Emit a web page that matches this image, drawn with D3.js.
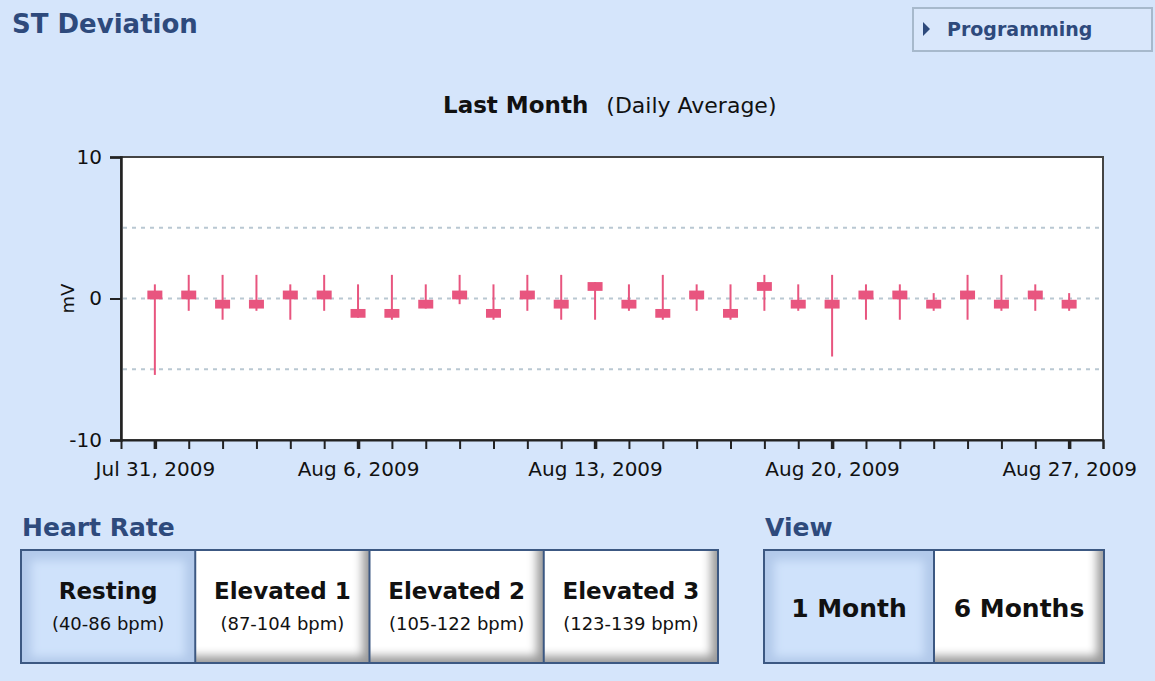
<!DOCTYPE html>
<html>
<head>
<meta charset="utf-8">
<script src="https://cdn.jsdelivr.net/npm/d3@7"></script>
<style>
  html, body { margin: 0; padding: 0; background: #d5e5fb; }
  svg { display: block; font-family: "DejaVu Sans", Verdana, sans-serif; }
</style>
</head>
<body>
<div id="chart"></div>
<script>

// Daily dates shown on the chart
const days = ["2009-07-31","2009-08-01","2009-08-02","2009-08-03","2009-08-04","2009-08-05","2009-08-06",
  "2009-08-07","2009-08-08","2009-08-09","2009-08-10","2009-08-11","2009-08-12","2009-08-13",
  "2009-08-14","2009-08-15","2009-08-16","2009-08-17","2009-08-18","2009-08-19","2009-08-20",
  "2009-08-21","2009-08-22","2009-08-23","2009-08-24","2009-08-25","2009-08-26","2009-08-27"];

// Daily average ST deviation (mV) and daily max / min
const avgValues = [0.25, 0.25, -0.4, -0.4, 0.25, 0.25, -1.05, -1.05, -0.4, 0.25, -1.05, 0.25, -0.4, 0.85,
  -0.4, -1.05, 0.25, -1.05, 0.85, -0.4, -0.4, 0.25, 0.25, -0.4, 0.25, -0.4, 0.25, -0.4];
const maxValues = [1.0, 1.67, 1.67, 1.67, 1.0, 1.67, 1.0, 1.67, 1.0, 1.67, 1.0, 1.67, 1.67, 1.16,
  1.0, 1.67, 1.0, 1.0, 1.67, 1.0, 1.67, 1.0, 1.0, 0.38, 1.67, 1.67, 1.0, 0.38];
const minValues = [-5.4, -0.87, -1.5, -0.87, -1.5, -0.87, -1.36, -1.5, -0.71, -0.4, -1.5, -0.87, -1.5, -1.5,
  -0.87, -1.5, -0.87, -1.5, -0.87, -0.87, -4.1, -1.5, -1.5, -0.87, -1.5, -0.87, -0.87, -0.87];

// Axis ticks
const yTicks = [-10, 0, 10];
const yGrid = [-5, 0, 5];
const labeledDays = ["2009-07-31", "2009-08-06", "2009-08-13", "2009-08-20", "2009-08-27"];
const xDomain = ["2009-07-30", "2009-08-28"];

// Buttons
const heartRateLabels = ["Resting", "Elevated 1", "Elevated 2", "Elevated 3"];
const heartRateRanges = ["(40-86 bpm)", "(87-104 bpm)", "(105-122 bpm)", "(123-139 bpm)"];
const viewLabels = ["1 Month", "6 Months"];

const W = 1155, H = 681;
const navy = "#2e4a7c";
const pink = "#e8557f";
const boxHalf = 0.31;

const parse = d3.timeParse("%Y-%m-%d");
const data = days.map((d, i) => ({ date: parse(d), avg: avgValues[i], hi: maxValues[i], lo: minValues[i] }));

const svg = d3.select("#chart").append("svg")
  .attr("width", W)
  .attr("height", H);

svg.append("rect").attr("width", W).attr("height", H).attr("fill", "#d5e5fb");

const defs = svg.append("defs");
defs.append("filter").attr("id", "blur").attr("x", "-20%").attr("y", "-20%").attr("width", "140%").attr("height", "140%")
  .append("feGaussianBlur").attr("stdDeviation", 5);

// Title
svg.append("text").attr("x", 12).attr("y", 33)
  .attr("font-size", 26).attr("font-weight", "bold").attr("fill", navy)
  .text("ST Deviation");

// Programming button
const prog = svg.append("g").attr("transform", "translate(913,8)");
prog.append("rect").attr("width", 239).attr("height", 43)
  .attr("fill", "#d9e7fb").attr("stroke", "#a7b9cc").attr("stroke-width", 2);
prog.append("path").attr("d", "M10,14 L17,21 L10,28 Z").attr("fill", navy);
prog.append("text").attr("x", 34).attr("y", 28)
  .attr("font-size", 19).attr("font-weight", "bold").attr("fill", navy)
  .text("Programming");

// Chart heading
const heading = svg.append("text").attr("x", 443).attr("y", 113).attr("fill", "#111");
heading.append("tspan").attr("font-weight", "bold").attr("font-size", 23).text("Last Month");
heading.append("tspan").attr("dx", 18).attr("font-size", 22).text("(Daily Average)");

// Plot area
const plot = { left: 121, right: 1103, top: 157, bottom: 440 };

const x = d3.scaleTime()
  .domain(xDomain.map(parse))
  .range([plot.left, plot.right]);

const y = d3.scaleLinear()
  .domain([-10, 10])
  .range([plot.bottom, plot.top]);

svg.append("rect")
  .attr("x", plot.left).attr("y", plot.top)
  .attr("width", plot.right - plot.left).attr("height", plot.bottom - plot.top)
  .attr("fill", "#fff").attr("stroke", "#444").attr("stroke-width", 2);

// Dotted grid lines
svg.append("g").selectAll("line")
  .data(yGrid)
  .enter().append("line")
    .attr("x1", plot.left + 2).attr("x2", plot.right - 2)
    .attr("y1", d => y(d)).attr("y2", d => y(d))
    .attr("stroke", "#b9c8d2").attr("stroke-width", 2)
    .attr("stroke-dasharray", "4,5");

// Axes
const labeled = new Set(labeledDays);
const fmt = d3.timeFormat("%b %-d, %Y");
const key = d3.timeFormat("%Y-%m-%d");
const tickDays = d3.timeDay.range(parse(days[0]), d3.timeDay.offset(parse(xDomain[1]), 1));

const xAxis = d3.axisBottom(x)
  .tickValues(tickDays)
  .tickSize(9)
  .tickPadding(13)
  .tickFormat(d => labeled.has(key(d)) ? fmt(d) : "");

const gx = svg.append("g")
  .attr("transform", `translate(0,${plot.bottom})`)
  .call(xAxis);
gx.select(".domain").attr("stroke", "#222").attr("stroke-width", 2);
gx.selectAll(".tick line")
  .attr("stroke", "#222")
  .attr("stroke-width", d => labeled.has(key(d)) ? 3.5 : 2);
gx.selectAll(".tick text").attr("font-size", 20).attr("fill", "#111")
  .attr("font-family", "DejaVu Sans, Verdana, sans-serif");

const yAxis = d3.axisLeft(y)
  .tickValues(yTicks)
  .tickSize(11)
  .tickPadding(8)
  .tickFormat(d => String(d));

const gy = svg.append("g")
  .attr("transform", `translate(${plot.left},0)`)
  .call(yAxis);
gy.select(".domain").attr("stroke", "#222").attr("stroke-width", 2.5);
gy.selectAll(".tick line").attr("stroke", "#222").attr("stroke-width", 2);
gy.selectAll(".tick text").attr("font-size", 20).attr("fill", "#111")
  .attr("font-family", "DejaVu Sans, Verdana, sans-serif");

svg.append("text")
  .attr("transform", `translate(74,${y(0)}) rotate(-90)`)
  .attr("text-anchor", "middle")
  .attr("font-size", 18).attr("fill", "#111")
  .text("mV");

// Candles
const candles = svg.append("g").selectAll("g")
  .data(data)
  .enter().append("g");

candles.append("line")
  .attr("x1", d => x(d.date)).attr("x2", d => x(d.date))
  .attr("y1", d => y(d.hi)).attr("y2", d => y(d.lo))
  .attr("stroke", pink).attr("stroke-width", 2);

candles.append("rect")
  .attr("x", d => x(d.date) - 7.5)
  .attr("width", 15)
  .attr("y", d => y(d.avg + boxHalf))
  .attr("height", d => y(d.avg - boxHalf) - y(d.avg + boxHalf))
  .attr("fill", pink);

// Button groups
function buttonGroup(labels, subLabels, left, right, top, bottom, selected, fontSize) {
  const band = d3.scaleBand()
    .domain(labels)
    .range([left, right]);
  const g = svg.append("g");

  labels.forEach((lab, i) => {
    const bx = band(lab), bw = band.bandwidth(), bh = bottom - top;
    const id = "clip" + lab.replace(/\W/g, "");
    defs.append("clipPath").attr("id", id)
      .append("rect").attr("x", bx).attr("y", top).attr("width", bw).attr("height", bh);
    const b = g.append("g").attr("clip-path", `url(#${id})`);
    if (i === selected) {
      b.append("rect").attr("x", bx).attr("y", top).attr("width", bw).attr("height", bh).attr("fill", "#b2c9ea");
      b.append("rect").attr("x", bx + 10).attr("y", top + 10).attr("width", bw - 20).attr("height", bh - 16)
        .attr("fill", "#cfe2fb").attr("filter", "url(#blur)");
    } else {
      b.append("rect").attr("x", bx).attr("y", top).attr("width", bw).attr("height", bh).attr("fill", "#9a9a9a");
      b.append("rect").attr("x", bx - 20).attr("y", top - 20).attr("width", bw + 13).attr("height", bh + 13)
        .attr("fill", "#fff").attr("filter", "url(#blur)");
    }
    const cx = bx + bw / 2;
    if (subLabels) {
      g.append("text").attr("x", cx).attr("y", top + 49).attr("text-anchor", "middle")
        .attr("font-size", fontSize).attr("font-weight", "bold").attr("fill", "#111").text(lab);
      g.append("text").attr("x", cx).attr("y", top + 80).attr("text-anchor", "middle")
        .attr("font-size", 18).attr("fill", "#111").text(subLabels[i]);
    } else {
      g.append("text").attr("x", cx).attr("y", top + 67).attr("text-anchor", "middle")
        .attr("font-size", fontSize).attr("font-weight", "bold").attr("fill", "#111").text(lab);
    }
  });

  g.append("rect").attr("x", left).attr("y", top).attr("width", right - left).attr("height", bottom - top)
    .attr("fill", "none").attr("stroke", "#3c5882").attr("stroke-width", 2);
  labels.slice(1).forEach(lab => {
    g.append("line").attr("x1", band(lab)).attr("x2", band(lab)).attr("y1", top).attr("y2", bottom)
      .attr("stroke", "#3c5882").attr("stroke-width", 2);
  });
}

svg.append("text").attr("x", 22).attr("y", 536)
  .attr("font-size", 25).attr("font-weight", "bold").attr("fill", navy)
  .text("Heart Rate");
buttonGroup(heartRateLabels, heartRateRanges, 21, 718, 550, 663, 0, 23);

svg.append("text").attr("x", 765).attr("y", 536)
  .attr("font-size", 25).attr("font-weight", "bold").attr("fill", navy)
  .text("View");
buttonGroup(viewLabels, null, 764, 1104, 550, 663, 0, 25);

</script>
</body>
</html>
